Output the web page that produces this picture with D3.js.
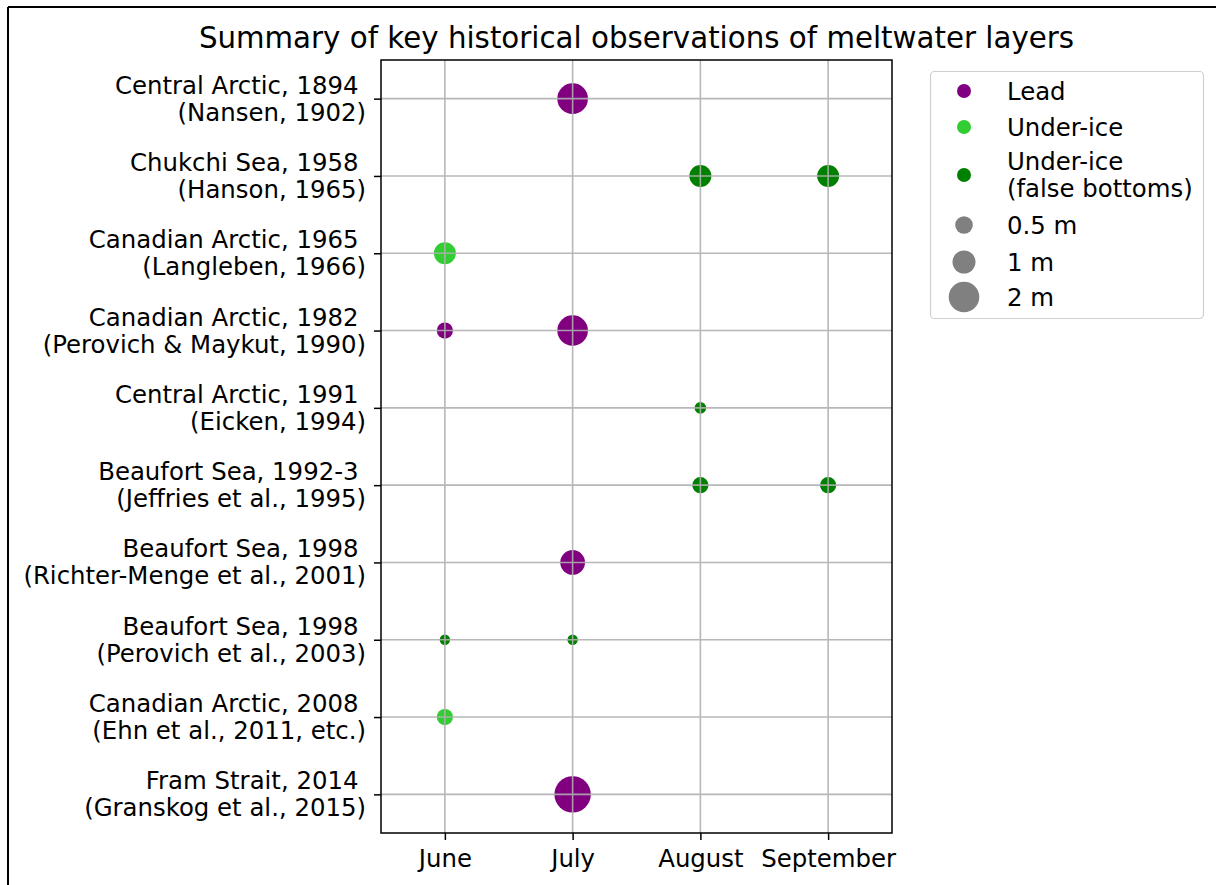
<!DOCTYPE html>
<html><head><meta charset="utf-8">
<script src="https://cdn.jsdelivr.net/npm/d3@7"></script>
<style>body{margin:0;background:#fff;} svg{display:block;font-family:"DejaVu Sans",sans-serif;}</style>
</head><body>
<script>
const months = ["June", "July", "August", "September"];
const studies = [
  ["Central Arctic, 1894", "(Nansen, 1902)"],
  ["Chukchi Sea, 1958", "(Hanson, 1965)"],
  ["Canadian Arctic, 1965", "(Langleben, 1966)"],
  ["Canadian Arctic, 1982", "(Perovich & Maykut, 1990)"],
  ["Central Arctic, 1991", "(Eicken, 1994)"],
  ["Beaufort Sea, 1992-3", "(Jeffries et al., 1995)"],
  ["Beaufort Sea, 1998", "(Richter-Menge et al., 2001)"],
  ["Beaufort Sea, 1998", "(Perovich et al., 2003)"],
  ["Canadian Arctic, 2008", "(Ehn et al., 2011, etc.)"],
  ["Fram Strait, 2014", "(Granskog et al., 2015)"]
];
const types = ["Lead", "Under-ice", "Under-ice\n(false bottoms)"];
const typeColors = ["purple", "limegreen", "green"];
// observations: [study index, month, type index, thickness (m)]
const obsStudy = [0, 1, 1, 2, 3, 3, 4, 5, 5, 6, 7, 7, 8, 9];
const obsMonth = ["July", "August", "September", "June", "June", "July", "August", "August", "September", "July", "June", "July", "June", "July"];
const obsType  = [0, 2, 2, 1, 0, 0, 2, 2, 2, 0, 2, 2, 1, 0];
const obsThick = [2.0, 0.9, 0.9, 0.9, 0.4, 2.0, 0.15, 0.4, 0.4, 1.2, 0.1, 0.1, 0.4, 3.0];
const sizeLegend = [0.5, 1, 2];
const sizeLegendLabels = ["0.5 m", "1 m", "2 m"];

const W = 1216, H = 885;
const svg = d3.select("body").append("svg").attr("width", W).attr("height", H);
svg.append("rect").attr("width", W).attr("height", H).attr("fill", "#fff");
// outer frame (left and top)
svg.append("line").attr("x1", 8).attr("x2", 8).attr("y1", 7).attr("y2", H).attr("stroke", "#000").attr("stroke-width", 2);
svg.append("line").attr("x1", 8).attr("x2", W).attr("y1", 7).attr("y2", 7).attr("stroke", "#000").attr("stroke-width", 2);

const L = 381, R = 892, T = 60, B = 833;
const x = d3.scaleLinear().domain([-0.5, months.length - 0.5]).range([L, R]);
const y = d3.scaleLinear().domain([-0.5, studies.length - 0.5]).range([T, B]);
const r = d3.scaleSqrt().domain([0, 2]).range([2.3, 15.3]);
const FS = 24.4;

const plot = svg.append("g");
// markers
obsStudy.forEach((s, i) => {
  plot.append("circle")
    .attr("cx", x(months.indexOf(obsMonth[i])))
    .attr("cy", y(s))
    .attr("r", r(obsThick[i]))
    .attr("fill", typeColors[obsType[i]]);
});
// grid above markers
const grid = svg.append("g").attr("stroke", "#b0b0b0").attr("stroke-width", 1.6).attr("opacity", 0.9);
months.forEach((m, i) => grid.append("line").attr("x1", x(i)).attr("x2", x(i)).attr("y1", T).attr("y2", B));
studies.forEach((s, i) => grid.append("line").attr("x1", L).attr("x2", R).attr("y1", y(i)).attr("y2", y(i)));

// axes
const xAxis = d3.axisBottom(x).tickValues(d3.range(months.length)).tickFormat(i => months[i]).tickSize(7).tickPadding(10);
const gx = svg.append("g").attr("transform", `translate(0,${B})`).call(xAxis);
gx.select(".domain").remove();
gx.selectAll("line").attr("stroke", "#000").attr("stroke-width", 1.5);
gx.selectAll("text").attr("font-size", FS).attr("fill", "#000").attr("font-family", "DejaVu Sans");

const yAxis = d3.axisLeft(y).tickValues(d3.range(studies.length)).tickFormat("").tickSize(7);
const gy = svg.append("g").attr("transform", `translate(${L},0)`).call(yAxis);
gy.select(".domain").remove();
gy.selectAll("line").attr("stroke", "#000").attr("stroke-width", 1.5);
studies.forEach((s, i) => {
  const t = svg.append("text").attr("text-anchor", "end").attr("font-size", FS).attr("fill", "#000");
  t.append("tspan").attr("x", 358.5).attr("y", y(i) - 13.5).attr("dy", "0.35em").text(s[0]);
  t.append("tspan").attr("x", 366).attr("y", y(i) + 13.5).attr("dy", "0.35em").text(s[1]);
});

// spines
svg.append("rect").attr("x", L).attr("y", T).attr("width", R - L).attr("height", B - T)
  .attr("fill", "none").attr("stroke", "#000").attr("stroke-width", 1.5);

// title
svg.append("text").attr("x", (L + R) / 2).attr("y", 38).attr("dy", "0.35em").attr("text-anchor", "middle")
  .attr("font-size", 29.3).attr("fill", "#000").text("Summary of key historical observations of meltwater layers");

// legend
const lg = svg.append("g");
lg.append("rect").attr("x", 930.5).attr("y", 71.5).attr("width", 273).attr("height", 247).attr("rx", 4)
  .attr("fill", "#fff").attr("stroke", "#d0d0d0").attr("stroke-width", 1.2);
const mx = 964, tx = 1007;
const typeRows = [91, 127, 175];
types.forEach((t, i) => {
  lg.append("circle").attr("cx", mx).attr("cy", typeRows[i]).attr("r", 7).attr("fill", typeColors[i]);
  const lines = t.split("\n");
  const txt = lg.append("text").attr("font-size", FS).attr("fill", "#000");
  lines.forEach((ln, j) => {
    txt.append("tspan").attr("x", tx).attr("y", typeRows[i] + (j - (lines.length - 1) / 2) * 27).attr("dy", "0.35em").text(ln);
  });
});
const sizeRows = [225, 262, 297];
sizeLegend.forEach((v, i) => {
  lg.append("circle").attr("cx", mx).attr("cy", sizeRows[i]).attr("r", r(v)).attr("fill", "gray");
  lg.append("text").attr("x", tx).attr("y", sizeRows[i]).attr("dy", "0.35em").attr("font-size", FS).attr("fill", "#000").text(sizeLegendLabels[i]);
});
</script>
</body></html>
